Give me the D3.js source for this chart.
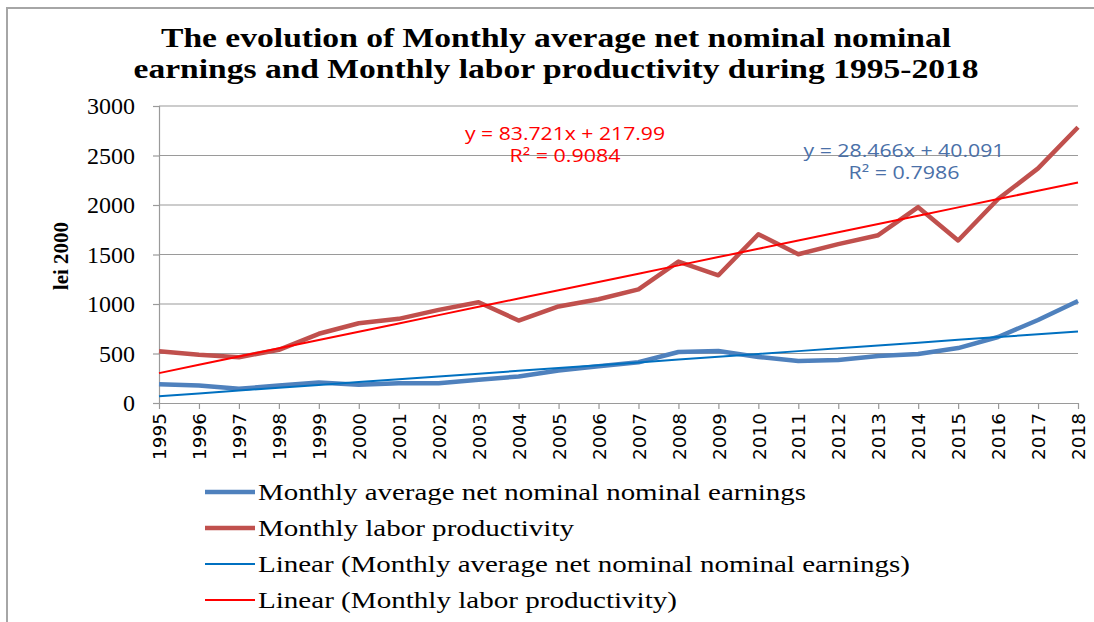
<!DOCTYPE html>
<html>
<head>
<meta charset="utf-8">
<script src="https://d3js.org/d3.v7.min.js"></script>
<style>
  body { margin: 0; background: #fff; }
  svg { display: block; }
</style>
</head>
<body>
<div id="chart"></div>
<script>
var years = ["1995","1996","1997","1998","1999","2000","2001","2002","2003","2004","2005","2006",
             "2007","2008","2009","2010","2011","2012","2013","2014","2015","2016","2017","2018"];
var earnings = [190, 177, 143, 177, 207, 184, 200, 200, 234, 268, 328, 372,
                412, 515, 525, 465, 424, 434, 475, 495, 555, 667, 838, 1030];
var productivity = [523, 487, 463, 537, 699, 806, 850, 941, 1018, 833, 975, 1048,
                    1148, 1428, 1290, 1705, 1503, 1605, 1695, 1978, 1642, 2060, 2370, 2785];
// Excel trendline coefficients (x = 1..24)
var trendEarnings = {slope: 28.466, intercept: 40.091};
var trendProductivity = {slope: 83.721, intercept: 217.99};
var yTicks = [0, 500, 1000, 1500, 2000, 2500, 3000];
var titleLines = ["The evolution of Monthly average net nominal nominal",
                  "earnings and Monthly labor productivity during 1995-2018"];
var legendItems = [
  {text: "Monthly average net nominal nominal earnings", color: "#4F81BD", w: 4.5, len: 548},
  {text: "Monthly labor productivity", color: "#C0504D", w: 4.5, len: 316},
  {text: "Linear (Monthly average net nominal nominal earnings)", color: "#0070C0", w: 2, len: 652},
  {text: "Linear (Monthly labor productivity)", color: "#FF0000", w: 2, len: 419}
];

var W = 1094, H = 622;
var svg = d3.select("#chart").append("svg")
    .attr("width", W)
    .attr("height", H);

// outer frame (only top and left visible)
svg.append("path")
    .attr("d", "M7,622 L7,8 L1094,8")
    .attr("fill", "none")
    .attr("stroke", "#a6a6a6")
    .attr("stroke-width", 2);

// title
svg.selectAll(".title")
    .data(titleLines)
    .enter().append("text")
    .attr("x", 556)
    .attr("y", (d, i) => 47 + i * 31)
    .attr("text-anchor", "middle")
    .attr("textLength", (d, i) => i === 0 ? 790 : 845)
    .attr("lengthAdjust", "spacingAndGlyphs")
    .style("font-family", "'Liberation Serif', 'Times New Roman', serif")
    .style("font-weight", "bold")
    .style("font-size", "28px")
    .text(d => d);

var x = d3.scalePoint().domain(years).range([159, 1078]);
var y = d3.scaleLinear().domain([0, 3000]).range([403, 106]);

// gridlines
svg.append("g")
    .selectAll("line")
    .data(yTicks.slice(1))
    .enter().append("line")
    .attr("x1", 159).attr("x2", 1078)
    .attr("y1", d => y(d)).attr("y2", d => y(d))
    .attr("stroke", "#9a9a9a")
    .attr("stroke-width", 1.2);

// y axis
var yAxis = svg.append("g")
    .attr("transform", "translate(159,0)")
    .call(d3.axisLeft(y).tickValues(yTicks).tickFormat(d3.format("d")).tickSize(6).tickPadding(18));
yAxis.selectAll("line, path").attr("stroke", "#9a9a9a").attr("stroke-width", 1.2);
yAxis.selectAll("text")
    .style("font-family", "'Liberation Serif', 'Times New Roman', serif")
    .style("font-size", "24px")
    .attr("fill", "#000");

// x axis
var xAxis = svg.append("g")
    .attr("transform", "translate(0,403)")
    .call(d3.axisBottom(x).tickSize(6).tickSizeOuter(0));
xAxis.selectAll("line, path").attr("stroke", "#9a9a9a").attr("stroke-width", 1.2);
xAxis.selectAll("text")
    .attr("transform", "rotate(-90)")
    .attr("x", -10)
    .attr("y", 0)
    .attr("dy", "0.36em")
    .attr("text-anchor", "end")
    .style("font-family", "'DejaVu Sans', Verdana, sans-serif")
    .style("font-size", "18.5px")
    .attr("fill", "#000");

// y label
svg.append("text")
    .attr("transform", "translate(68,256) rotate(-90)")
    .attr("text-anchor", "middle")
    .style("font-family", "'Liberation Serif', 'Times New Roman', serif")
    .style("font-weight", "bold")
    .style("font-size", "21px")
    .text("lei 2000");

var line = d3.line()
    .x((d, i) => x(years[i]))
    .y(d => y(d));

// trend lines
function trendPts(t) {
  return years.map((yr, i) => t.slope * (i + 1) + t.intercept);
}

svg.append("path")
    .datum(productivity)
    .attr("d", line)
    .attr("fill", "none")
    .attr("stroke", "#C0504D")
    .attr("stroke-width", 4.5)
    .attr("stroke-linejoin", "round");

svg.append("path")
    .datum(earnings)
    .attr("d", line)
    .attr("fill", "none")
    .attr("stroke", "#4F81BD")
    .attr("stroke-width", 4.5)
    .attr("stroke-linejoin", "round");

svg.append("path")
    .datum(trendPts(trendProductivity))
    .attr("d", line)
    .attr("fill", "none")
    .attr("stroke", "#FF0000")
    .attr("stroke-width", 2);

svg.append("path")
    .datum(trendPts(trendEarnings))
    .attr("d", line)
    .attr("fill", "none")
    .attr("stroke", "#0070C0")
    .attr("stroke-width", 2);

// trend equations
var eqs = [
  {lines: ["y = 83.721x + 217.99", "R² = 0.9084"], lens: [200, 111], cx: 565, y0: 140, color: "#FF0000"},
  {lines: ["y = 28.466x + 40.091", "R² = 0.7986"], lens: [201, 111], cx: 904, y0: 157, color: "#4A70A8"}
];
eqs.forEach(e => {
  svg.selectAll(null)
    .data(e.lines)
    .enter().append("text")
    .attr("x", e.cx)
    .attr("y", (d, i) => e.y0 + i * 22)
    .attr("text-anchor", "middle")
    .attr("textLength", (d, i) => e.lens[i])
    .attr("lengthAdjust", "spacingAndGlyphs")
    .attr("fill", e.color)
    .style("font-family", "'Open Sans', 'Liberation Sans', sans-serif")
    .style("font-size", "17.5px")
    .text(d => d);
});

// legend
var leg = svg.append("g");
legendItems.forEach((d, i) => {
  var yy = 492 + i * 36;
  leg.append("line")
    .attr("x1", 205).attr("x2", 255)
    .attr("y1", yy).attr("y2", yy)
    .attr("stroke", d.color)
    .attr("stroke-width", d.w);
  leg.append("text")
    .attr("x", 258)
    .attr("y", yy + 8)
    .attr("textLength", d.len)
    .attr("lengthAdjust", "spacingAndGlyphs")
    .style("font-family", "'Liberation Serif', 'Times New Roman', serif")
    .style("font-size", "24px")
    .text(d.text);
});
</script>
</body>
</html>
